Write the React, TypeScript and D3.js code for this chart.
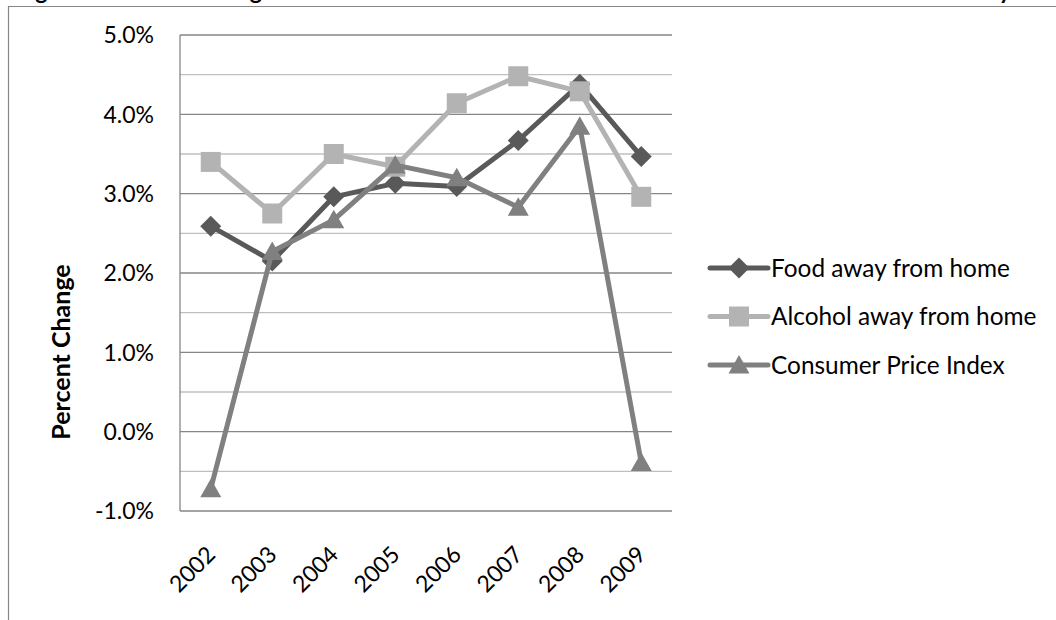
import React from 'react';
import * as d3 from 'd3';

const years = ['2002', '2003', '2004', '2005', '2006', '2007', '2008', '2009'];
const foodAway = [2.59, 2.15, 2.96, 3.13, 3.09, 3.67, 4.38, 3.47];
const alcoholAway = [3.40, 2.75, 3.50, 3.34, 4.14, 4.48, 4.29, 2.96];
const cpiValues = [-0.72, 2.27, 2.67, 3.36, 3.20, 2.83, 3.85, -0.39];
const seriesNames = ['Food away from home', 'Alcohol away from home', 'Consumer Price Index'];
const seriesColors = ['#595959', '#b3b3b3', '#808080'];
const seriesMarkers = ['diamond', 'square', 'triangle'];
const yDomain = [-1, 5];
const yLabel = 'Percent Change';
const titleText = 'Figure 1. Annual Percent Change in Restaurant Food and Alcohol Prices Relative to the Consumer Price Index from 2002 to 2009 by Year';

const W = 1056;
const H = 620;
const plot = { left: 180, right: 672, top: 35, bottom: 511 };
const FONT = 'Lato, "Open Sans", sans-serif';

function markerPath(kind: string): string {
  if (kind === 'diamond') return 'M0,-10.5L10.5,0L0,10.5L-10.5,0Z';
  if (kind === 'square') return 'M-10,-10H10V10H-10Z';
  return 'M0,-10L10.5,8.5L-10.5,8.5Z';
}

export default function App() {
  const x = d3.scalePoint<string>().domain(years).range([plot.left, plot.right]).padding(0.5);
  const y = d3.scaleLinear().domain(yDomain).range([plot.bottom, plot.top]);
  const grid = y.ticks(12);
  const majors = y.ticks(6);
  const data = [foodAway, alcoholAway, cpiValues];
  const line = d3
    .line<number>()
    .x((_, i) => x(years[i]) as number)
    .y((d) => y(d));
  const fmt = d3.format('.1f');
  const pct = (v: number) => fmt(v).replace('\u2212', '-') + '%';

  return (
    <div style={{ position: 'absolute', left: 0, top: 0, width: W, height: H, background: '#fff' }}>
      <svg width={W} height={H} style={{ display: 'block' }}>
        <rect x={0} y={0} width={W} height={H} fill="#fff" />
        {/* title, cropped at the top edge as in the reference */}
        <text x={22} y={-1} fontFamily={FONT} fontWeight={700} fontSize={23} fill="#000" textLength={1024} lengthAdjust="spacing">
          {titleText}
        </text>
        {/* outer frame */}
        <line x1={8.5} x2={8.5} y1={6.5} y2={H} stroke="#868686" strokeWidth={1.2} />
        <line x1={8} x2={W} y1={6.5} y2={6.5} stroke="#868686" strokeWidth={1.2} />

        {/* gridlines */}
        {grid.map((t) => {
          const isMajor = majors.some((m) => Math.abs(m - t) < 1e-9);
          return (
            <line
              key={'g' + t}
              x1={plot.left}
              x2={plot.right}
              y1={y(t)}
              y2={y(t)}
              stroke={isMajor ? '#868686' : '#bfbfbf'}
              strokeWidth={1.3}
            />
          );
        })}
        <line x1={plot.left} x2={plot.left} y1={plot.top} y2={plot.bottom} stroke="#868686" strokeWidth={1.3} />

        {/* y tick labels */}
        {majors.map((t) => (
          <text
            key={'yl' + t}
            x={154}
            y={y(t)}
            dy="0.36em"
            textAnchor="end"
            fontFamily={FONT}
            fontSize={23}
            fill="#000"
          >
            {pct(t)}
          </text>
        ))}

        {/* x tick labels */}
        {years.map((yr) => (
          <text
            key={'xl' + yr}
            transform={`translate(${(x(yr) as number) + 6},556) rotate(-45)`}
            textAnchor="end"
            fontFamily={FONT}
            fontSize={23}
            fill="#000"
          >
            {yr}
          </text>
        ))}

        {/* y axis title */}
        <text
          transform="translate(70,352) rotate(-90)"
          textAnchor="middle"
          fontFamily={FONT}
          fontWeight={700}
          fontSize={25}
          fill="#000"
        >
          {yLabel}
        </text>

        {/* series */}
        {data.map((vals, si) => (
          <g key={'s' + si}>
            <path
              d={line(vals) || ''}
              fill="none"
              stroke={seriesColors[si]}
              strokeWidth={5}
              strokeLinejoin="round"
            />
            {vals.map((v, i) => (
              <path
                key={i}
                transform={`translate(${x(years[i])},${y(v)})`}
                d={markerPath(seriesMarkers[si])}
                fill={seriesColors[si]}
              />
            ))}
          </g>
        ))}

        {/* legend */}
        {seriesNames.map((name, i) => {
          const ly = 268 + i * 48.5;
          return (
            <g key={'lg' + i}>
              <line x1={710} x2={768} y1={ly} y2={ly} stroke={seriesColors[i]} strokeWidth={5} strokeLinecap="round" />
              <path transform={`translate(739,${ly})`} d={markerPath(seriesMarkers[i])} fill={seriesColors[i]} />
              <text x={771} y={ly} dy="0.36em" fontFamily={FONT} fontSize={24.4} fill="#000">
                {name}
              </text>
            </g>
          );
        })}
      </svg>
    </div>
  );
}
